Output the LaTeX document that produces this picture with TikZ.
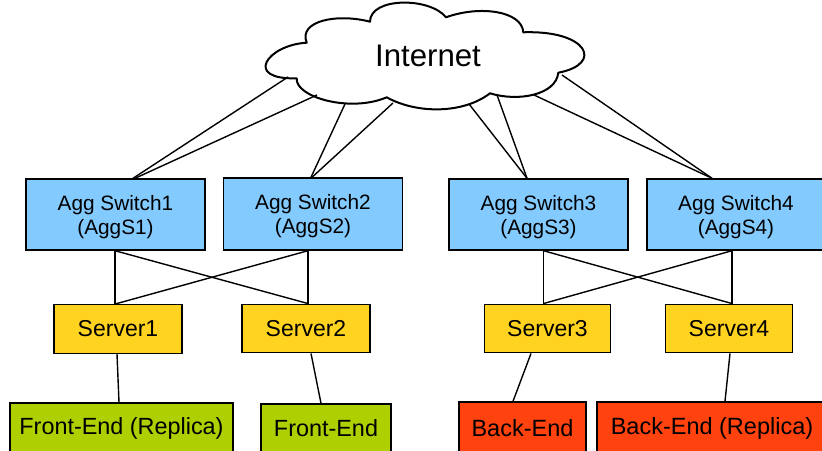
\documentclass[tikz,border=0pt]{standalone}
\usepackage{fontspec}
\setmainfont{Liberation Sans}
\definecolor{aggblue}{HTML}{83CAFF}
\definecolor{srvyellow}{HTML}{FFD320}
\definecolor{fegreen}{HTML}{AECF00}
\definecolor{bered}{HTML}{FF420E}
\newcommand{\aggtop}{\rule{0pt}{20pt}}
\tikzset{
  boxbase/.style={draw=black,line width=1.4pt,inner sep=0pt,align=center,text=black},
  agg/.style={boxbase,fill=aggblue,minimum height=71pt,font=\fontsize{20.8}{24}\selectfont},
  srv/.style={boxbase,fill=srvyellow,minimum height=48.5pt,font=\fontsize{23}{26}\selectfont},
  fe/.style={boxbase,fill=fegreen,minimum height=50pt,font=\fontsize{23.4}{27}\selectfont},
  be/.style={boxbase,fill=bered,minimum height=52pt,font=\fontsize{23.5}{27}\selectfont},
  link/.style={draw=black,line width=1.4pt},
  cloudline/.style={draw=black,fill=white,line width=2pt,line join=round}
}
\begin{document}
\begin{tikzpicture}[x=1pt,y=-1pt]
\useasboundingbox (0,0) rectangle (822,450);
% cloud
\draw[cloudline] (306.7,42.7)
  .. controls (267,45) and (243,80) .. (296.7,78.3)
  .. controls (295,97) and (350,113) .. (386.7,97.3)
  .. controls (416.7,114) and (463,114) .. (490,93.3)
  .. controls (518,102) and (556,95) .. (558.3,72.7)
  .. controls (604,64) and (588,30) .. (523.3,32.3)
  .. controls (522,11) and (480,5) .. (446,17.3)
  .. controls (430,-3) and (370,-3) .. (370,21.7)
  .. controls (336.7,13) and (298,21) .. (306.7,42.7) -- cycle;
\node[inner sep=0pt,font=\fontsize{31.2}{36}\selectfont] (inet) at (428,56) {Internet};
\coordinate (c1) at (288,77);
\coordinate (c2) at (317,95);
\coordinate (c3) at (345,104);
\coordinate (c4) at (393,103);
\coordinate (c5) at (469,104);
\coordinate (c6) at (497,95);
\coordinate (c7) at (534,95);
\coordinate (c8) at (562,75);
% switches
\node[agg,minimum width=179pt] (a1) at (115.5,214.5) {\aggtop Agg Switch1\\(AggS1)};
\node[agg,minimum width=179pt,minimum height=72pt] (a2) at (313,214) {\aggtop Agg Switch2\\(AggS2)};
\node[agg,minimum width=179pt] (a3) at (538.5,214.5) {\aggtop Agg Switch3\\(AggS3)};
\node[agg,minimum width=178pt] (a4) at (736,214.5) {\aggtop Agg Switch4\\(AggS4)};
% servers
\node[srv,minimum width=128pt] (s1) at (118,329) {Server1};
\node[srv,minimum width=128pt] (s2) at (306,328.5) {Server2};
\node[srv,minimum width=125.5pt] (s3) at (547.5,328.5) {Server3};
\node[srv,minimum width=126.5pt] (s4) at (729,328.5) {Server4};
% tiers
\node[fe,minimum width=223pt] (f1) at (121.5,428) {Front-End (Replica)};
\node[fe,minimum width=130pt,minimum height=49pt] (f2) at (326,428.5) {Front-End};
\node[be,minimum width=127pt] (b1) at (522.5,428) {Back-End};
\node[be,minimum width=230pt] (b2) at (712,428) {Back-End (Replica)};
% internet links
\draw[link] (c1) -- ([xshift=17.5pt]a1.north);
\draw[link] (c2) -- ([xshift=19.5pt]a1.north);
\draw[link] (c3) -- ([xshift=-2pt]a2.north);
\draw[link] (c4) -- ([xshift=-1pt]a2.north);
\draw[link] (c5) -- ([xshift=-11.5pt]a3.north);
\draw[link] (c6) -- ([xshift=-11.5pt]a3.north);
\draw[link] (c7) -- ([xshift=-24pt]a4.north);
\draw[link] (c8) -- ([xshift=-24pt]a4.north);
% switch to server links
\draw[link] ([xshift=-0.5pt]a1.south) -- ([xshift=-3pt]s1.north);
\draw[link] ([xshift=-0.5pt]a1.south) -- ([xshift=2pt]s2.north);
\draw[link] ([xshift=-5pt]a2.south) -- ([xshift=2pt]s2.north);
\draw[link] ([xshift=-5pt]a2.south) -- ([xshift=-3pt]s1.north);
\draw[link] ([xshift=5pt]a3.south) -- ([xshift=-4pt]s3.north);
\draw[link] ([xshift=5pt]a3.south) -- ([xshift=3pt]s4.north);
\draw[link] ([xshift=-4pt]a4.south) -- ([xshift=3pt]s4.north);
\draw[link] ([xshift=-4pt]a4.south) -- ([xshift=-4pt]s3.north);
% server to tier links
\draw[link] ([xshift=-1pt]s1.south) -- ([xshift=-2.5pt]f1.north);
\draw[link] ([xshift=5pt]s2.south) -- ([xshift=-5pt]f2.north);
\draw[link] ([xshift=-16.5pt]s3.south) -- ([xshift=-9.5pt]b1.north);
\draw[link] ([xshift=1pt]s4.south) -- ([xshift=13pt]b2.north);
\end{tikzpicture}
\end{document}
